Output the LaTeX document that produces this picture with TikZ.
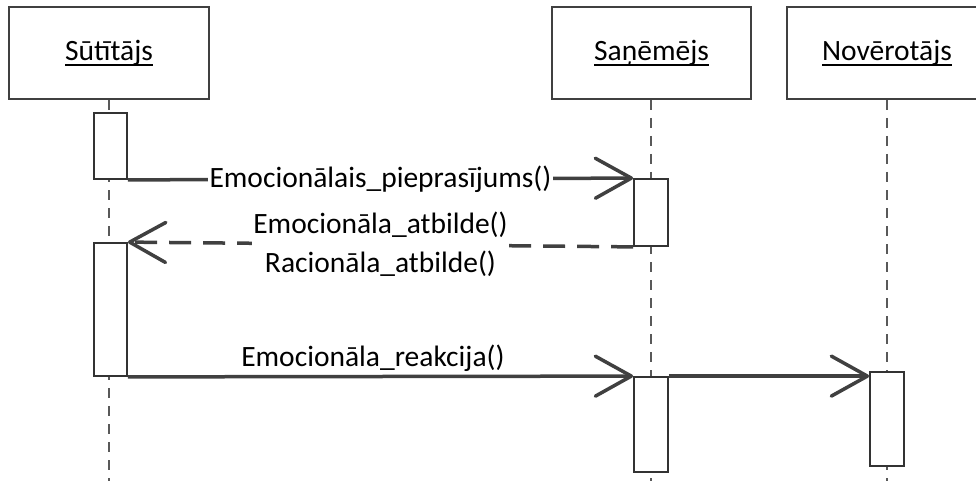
\documentclass[tikz,border=0pt]{standalone}
\usepackage{fontspec}
\setmainfont{Carlito}
\usetikzlibrary{arrows.meta}
\newcommand\myul[1]{\setbox0\hbox{#1}\rlap{\raisebox{-6pt}{\rule{\wd0}{1.8pt}}}\box0}
\begin{document}
\begin{tikzpicture}[x=1pt,y=-1pt,
  every node/.style={font=\fontsize{29.5}{39}\selectfont},
  actor/.style={draw=black!75,line width=2pt,minimum height=92pt,inner sep=0pt,fill=white},
  life/.style={draw=black!65,line width=1.5pt,dash pattern=on 10pt off 8pt},
  act/.style={draw=black!80,line width=1.8pt,fill=white,inner sep=0pt,minimum width=33pt},
  msg/.style={draw=black!75,line width=3.5pt,-{Straight Barb[length=36pt,width=40pt,round]}},
  ret/.style={msg,dash pattern=on 22pt off 12pt},
  lbl/.style={fill=white,inner sep=1.5pt,align=center}]
\useasboundingbox (0,0) rectangle (976,481);
% participants
\node[actor,minimum width=200pt] (S) at (109,53) {\myul{Sūtītājs}};
\node[actor,minimum width=199pt] (R) at (651.5,53) {\myul{Saņēmējs}};
\node[actor,minimum width=200pt] (N) at (887,53) {\myul{Novērotājs}};
% lifelines
\coordinate (Se) at (109,481);
\coordinate (Re) at (651,481);
\coordinate (Ne) at (887,481);
\draw[life] (S.south -| Se) -- (Se);
\draw[life] (R.south -| Re) -- (Re);
\draw[life] (N.south -| Ne) -- (Ne);
% activations
\node[act,minimum height=66pt] (a1) at (110.5,146) {};
\node[act,minimum height=67pt,minimum width=34pt] (b1) at (651,212.5) {};
\node[act,minimum height=133pt] (a2) at (110.5,309.5) {};
\node[act,minimum height=95pt,minimum width=34pt] (b2) at (651,424.5) {};
\node[act,minimum height=94pt,minimum width=34pt] (c1) at (887,419) {};
% messages
\draw[msg] (a1.south east) -- node[lbl,midway] {Emocionālais\_pieprasījums()} (b1.north west);
\draw[ret] (b1.south west) -- node[lbl,midway] {Emocionāla\_atbilde()\\Racionāla\_atbilde()} (a2.north east);
\draw[msg] (a2.south east) -- node[above,pos=0.485,inner sep=3pt] {Emocionāla\_reakcija()} (b2.north west);
\draw[msg] (b2.north east) -- (c1.west |- b2.north east);
\end{tikzpicture}
\end{document}
